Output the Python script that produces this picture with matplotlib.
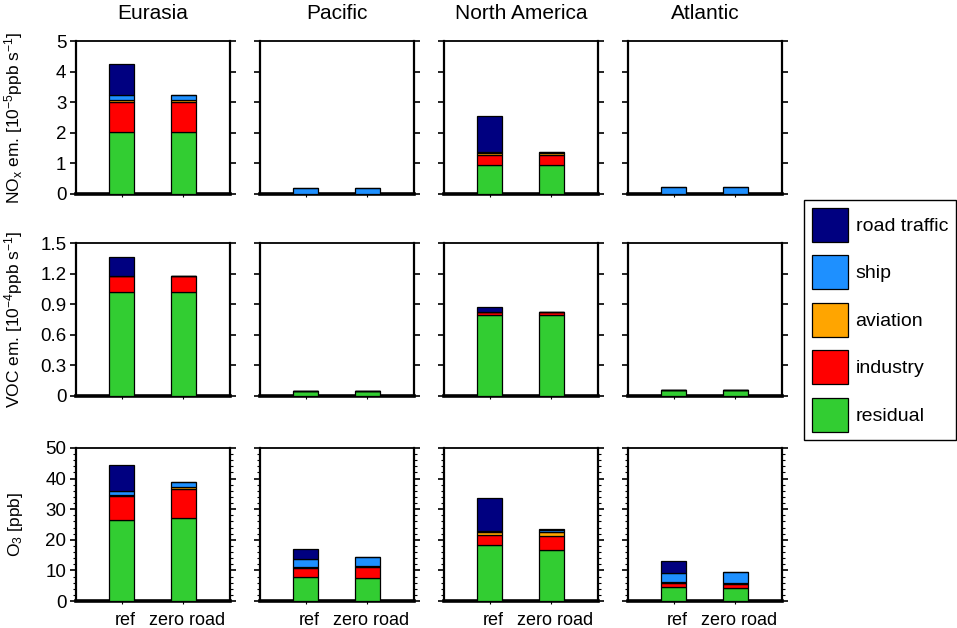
import numpy as np
import matplotlib
matplotlib.use("Agg")
import matplotlib.pyplot as plt
import matplotlib.transforms as mtransforms
from matplotlib.patches import Patch
from matplotlib.ticker import MultipleLocator, FuncFormatter

plt.rcParams["font.family"] = ["Liberation Sans", "DejaVu Sans"]
plt.rcParams["mathtext.default"] = "regular"

## DATA ##
regions = ["Eurasia", "Pacific", "North America", "Atlantic"]
scenarios = ["ref", "zero road"]
sources = ["residual", "industry", "aviation", "ship", "road traffic"]
colors = {"road traffic": "#000080", "ship": "#1E90FF", "aviation": "#FFA500",
          "industry": "#FF0000", "residual": "#32CD32"}

# NOx emissions [1e-5 ppb/s], rows = regions, cols = (ref, zero road)
nox_residual = [[2.03, 2.03], [0, 0], [0.96, 0.96], [0, 0]]
nox_industry = [[0.99, 0.99], [0, 0], [0.30, 0.30], [0, 0]]
nox_aviation = [[0.05, 0.05], [0, 0], [0.08, 0.08], [0, 0]]
nox_ship = [[0.15, 0.15], [0.21, 0.21], [0.02, 0.02], [0.24, 0.24]]
nox_road = [[1.02, 0], [0, 0], [1.20, 0], [0, 0]]

# VOC emissions [1e-4 ppb/s]
voc_residual = [[1.02, 1.02], [0.045, 0.045], [0.79, 0.79], [0.055, 0.055]]
voc_industry = [[0.16, 0.16], [0, 0], [0.035, 0.035], [0, 0]]
voc_aviation = [[0, 0], [0, 0], [0, 0], [0, 0]]
voc_ship = [[0, 0], [0, 0], [0, 0], [0.003, 0.003]]
voc_road = [[0.18, 0], [0, 0], [0.045, 0], [0, 0]]

# O3 [ppb]
o3_residual = [[26.5, 27.1], [7.7, 7.5], [18.3, 16.6], [4.6, 4.1]]
o3_industry = [[7.7, 9.4], [3.1, 3.5], [3.3, 4.6], [1.3, 1.4]]
o3_aviation = [[0.5, 0.8], [0.3, 0.3], [1.1, 1.3], [0.4, 0.4]]
o3_ship = [[1.1, 1.5], [2.7, 3.1], [0.3, 0.8], [2.9, 3.6]]
o3_road = [[8.6, 0.1], [3.3, 0.1], [10.6, 0.1], [4.0, 0.1]]

quantities = [
    dict(stack=[nox_residual, nox_industry, nox_aviation, nox_ship, nox_road],
         ylim=5, major=1, minor=None,
         ylabel=r"NO$_x$ em. [10$^{-5}$ppb s$^{-1}$]"),
    dict(stack=[voc_residual, voc_industry, voc_aviation, voc_ship, voc_road],
         ylim=1.5, major=0.3, minor=None,
         ylabel=r"VOC em. [10$^{-4}$ppb s$^{-1}$]"),
    dict(stack=[o3_residual, o3_industry, o3_aviation, o3_ship, o3_road],
         ylim=50, major=10, minor=2,
         ylabel=r"O$_3$ [ppb]"),
]

## PLOTTING ##
W, H = 957, 628
fig = plt.figure(figsize=(W / 100, H / 100), dpi=100)

col_left = [76, 260, 444, 628]
row_top = [41, 243, 448]
pw, ph = 154, 153
x = np.array([1.0, 2.0])
label_shift = mtransforms.ScaledTranslation(4 / 100, 0, fig.dpi_scale_trans)

for r, q in enumerate(quantities):
    for c, region in enumerate(regions):
        ax = fig.add_axes([col_left[c] / W, 1 - (row_top[r] + ph) / H, pw / W, ph / H])
        bottom = np.zeros(2)
        for src, vals in zip(sources, q["stack"]):
            v = np.array(vals[c], dtype=float)
            ax.bar(x, v, width=0.41, bottom=bottom, color=colors[src],
                   edgecolor="black", linewidth=0.9, zorder=3)
            bottom += v

        ax.set_xlim(0.26, 2.76)
        ax.set_ylim(0, q["ylim"])
        ax.yaxis.set_major_locator(MultipleLocator(q["major"]))
        if q["minor"]:
            ax.yaxis.set_minor_locator(MultipleLocator(q["minor"]))
        ax.yaxis.set_major_formatter(FuncFormatter(lambda v, p: f"{v:g}"))
        ax.tick_params(axis="y", which="both", direction="out", left=True, right=True,
                       labelleft=(c == 0), width=1.2, labelsize=13.5, pad=3)
        ax.tick_params(axis="y", which="major", length=4)
        ax.tick_params(axis="y", which="minor", length=2.5, width=0.8)
        ax.set_xticks(x)
        ax.tick_params(axis="x", direction="out", length=2, width=0.8,
                       labelbottom=(r == 2), labelsize=13, pad=6)
        ax.set_xticklabels(scenarios)
        for lbl in ax.get_xticklabels():
            lbl.set_transform(lbl.get_transform() + label_shift)

        for side in ["left", "right"]:
            ax.spines[side].set_linewidth(1.6)
        ax.spines["bottom"].set_linewidth(2.6)
        ax.spines["top"].set_linewidth(1.3)

        if r == 0:
            ax.set_title(region, fontsize=15, pad=16)
        if c == 0:
            ax.set_ylabel(q["ylabel"], fontsize=12.5)
            ax.yaxis.set_label_coords(-0.33, 0.5)

# --- Legend ---
handles = [Patch(facecolor=colors[s], edgecolor="black", linewidth=0.9)
           for s in reversed(sources)]
leg = fig.legend(handles, list(reversed(sources)), loc="upper left",
                 bbox_to_anchor=(804 / W, 1 - 200 / H), fontsize=14,
                 handlelength=1.85, handleheight=2.31, labelspacing=0.7,
                 handletextpad=0.4, borderpad=0.4, borderaxespad=0,
                 fancybox=False, edgecolor="black", framealpha=1)
leg.get_frame().set_linewidth(1.0)

fig.savefig("out.png", dpi=100)
